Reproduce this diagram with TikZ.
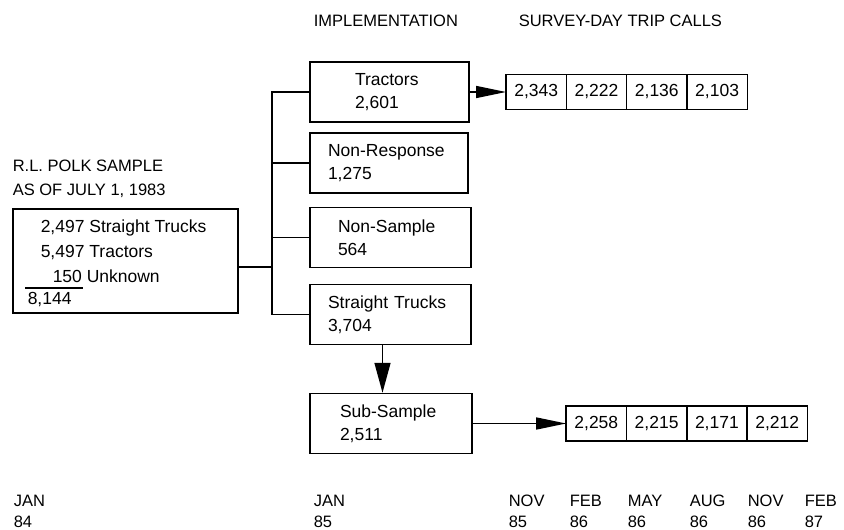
\documentclass[tikz,border=0pt]{standalone}
\usepackage{fontspec}
\setmainfont{Liberation Sans}
\usetikzlibrary{positioning,arrows.meta}

\begin{document}
\begin{tikzpicture}[x=1pt, y=-1pt, line width=1.5pt, font=\fontsize{17.5}{23}\selectfont,
        box/.style = {draw, align=left, minimum height=60pt, inner ysep=2pt},
        cell/.style = {draw, minimum width=60.3pt, minimum height=35pt, inner sep=0pt, outer sep=0pt},
        lbl/.style = {inner sep=0pt, anchor=base west},
        caps/.style = {lbl, font=\fontsize{16.5}{20}\selectfont},
        arr/.style = {-{Triangle[length=30pt, width=12pt]}}]
        \useasboundingbox (0,0) rectangle (844,530);
        \node[caps] (impl) at (313,26) {IMPLEMENTATION};
        \node[caps] (survey) at (518,26) {SURVEY-DAY TRIP CALLS};
        % sample on the left
        \node[caps] (polk) at (12,171) {R.L. POLK SAMPLE};
        \node[caps] (asof) at (12,195) {AS OF JULY 1, 1983};
        \node[draw, anchor=north west, minimum width=225pt, minimum height=104pt, inner sep=0pt] (sample) at (12,208) {};
        \node[lbl] (strt) at (40,232) {2,497 Straight Trucks};
        \node[lbl] (trac) at (40,257) {5,497 Tractors};
        \node[lbl] (unkn) at (52,282) {150 Unknown};
        \draw[line width=1.2pt] (25,288) -- (83,288);
        \node[lbl] (total) at (27,304) {8,144};
        % implementation boxes
        \node[box, text width=69pt, inner xsep=45pt] (tr) at (389.5,92) {Tractors\\2,601};
        \node[box, text width=122pt, inner xsep=18pt] (nr) at (389,163) {Non-Response\\1,275};
        \node[box, text width=105pt, inner xsep=28pt] (ns) at (390.5,237.5) {Non-Sample\\564};
        \node[box, text width=125pt, inner xsep=18pt] (st) at (390.5,314.5) {Straight Trucks\\3,704};
        \node[box, text width=102pt, inner xsep=30pt] (sub) at (391,423.5) {Sub-Sample\\2,511};
        \coordinate (bus) at (272,267);
        \draw (sample.east |- bus) -- (bus);
        \draw (tr.west) -- (tr.west -| bus) -- (st.west -| bus) -- (st.west);
        \draw (nr.west) -- (nr.west -| bus);
        \draw (ns.west) -- (ns.west -| bus);
        % trip calls
        \node[cell] (t1) at (536.2,92) {2,343};
        \node[cell, right=0pt of t1] (t2) {2,222};
        \node[cell, right=0pt of t2] (t3) {2,136};
        \node[cell, right=0pt of t3] (t4) {2,103};
        \node[cell] (s1) at (596.3,423.5) {2,258};
        \node[cell, right=0pt of s1] (s2) {2,215};
        \node[cell, right=0pt of s2] (s3) {2,171};
        \node[cell, right=0pt of s3] (s4) {2,212};
        \draw[arr] (tr.east) -- (t1.west);
        \draw[arr] (sub.east) -- (s1.west);
        \draw[-{Triangle[length=30pt, width=16pt]}] ([xshift=-8pt]st.south) -- ([xshift=-8pt]st.south |- sub.north);
        % dates
        \foreach \x/\m/\yr [count=\i] in {13/JAN/84, 313/JAN/85, 508/NOV/85, 569/FEB/86, 627/MAY/86, 689/AUG/86, 747/NOV/86, 804/FEB/87} {
            \node[caps] (m\i) at (\x,506) {\m};
            \node[caps] (y\i) at (\x,527) {\yr};
        }
\end{tikzpicture}
\end{document}
